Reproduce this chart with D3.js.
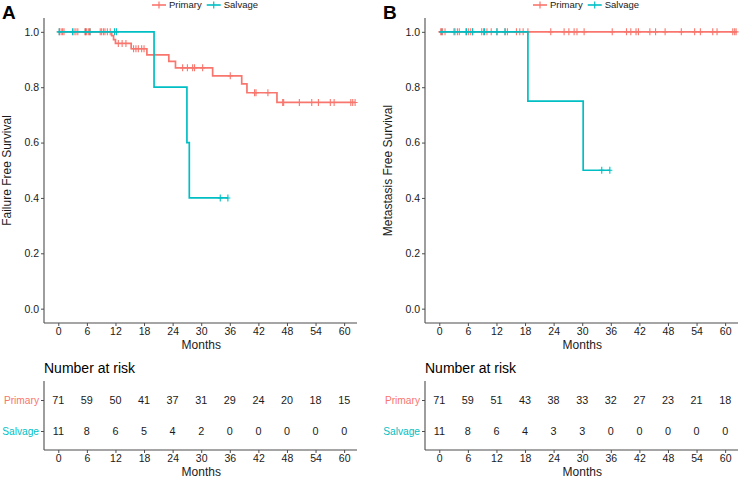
<!DOCTYPE html>
<html><head><meta charset="utf-8">
<script src="https://cdn.jsdelivr.net/npm/d3@7"></script>
<style>body{margin:0;background:#fff}svg{display:block;font-family:"Liberation Sans",Arial,sans-serif}</style>
</head><body><svg id="c" width="740" height="478"></svg>
<script>
// ---------- data ----------
const groups = ["Primary", "Salvage"];
const colors = ["#F8766D", "#00BFC4"];
const timeTicks = [0, 6, 12, 18, 24, 30, 36, 42, 48, 54, 60];
const survTicks = [0, 0.2, 0.4, 0.6, 0.8, 1.0];

// Panel A: Failure free survival
const A_primaryEventTimes = [11.2, 11.6, 12.0, 15.3, 18.6, 23.2, 24.6, 32.4, 38.5, 39.6, 45.9];
const A_primarySurv       = [0.986, 0.972, 0.958, 0.939, 0.917, 0.893, 0.870, 0.841, 0.812, 0.780, 0.745];
const A_primaryEnd = 62.3;
const A_primaryCensor = [0.2, 0.6, 0.9, 1.2, 3.3, 3.7, 4.1, 5.6, 5.9, 6.3, 6.7, 8.8, 9.1, 9.5, 9.8, 10.3, 10.9,
  12.6, 13.4, 14.2, 15.8, 16.3, 16.8, 17.5, 18.0, 26.1, 27.1, 28.2, 28.6, 30.3, 36.1, 41.2, 41.5, 44.0,
  47.1, 47.3, 50.6, 53.2, 54.6, 57.1, 57.9, 61.4, 61.8, 62.3];
const A_salvageEventTimes = [20.1, 27.0, 27.5];
const A_salvageSurv       = [0.8, 0.6, 0.4];
const A_salvageEnd = 35.6;
const A_salvageCensor = [0.2, 3.0, 5.7, 6.6, 11.8, 12.2, 34.0, 35.6];
const A_riskPrimary = [71, 59, 50, 41, 37, 31, 29, 24, 20, 18, 15];
const A_riskSalvage = [11, 8, 6, 5, 4, 2, 0, 0, 0, 0, 0];

// Panel B: Metastasis free survival
const B_primaryEventTimes = [];
const B_primarySurv       = [];
const B_primaryEnd = 62.4;
const B_primaryCensor = [0.3, 0.7, 1.2, 3.3, 3.8, 4.2, 5.6, 6.1, 6.6, 7.0, 8.9, 9.3, 10.0, 10.9, 12.1,
  13.8, 14.3, 16.2, 16.9, 17.6, 18.6, 23.4, 26.2, 27.2, 28.3, 28.9, 30.4, 36.3, 39.3, 40.2, 41.3, 41.8,
  44.2, 45.4, 47.4, 50.8, 53.6, 54.8, 57.4, 58.3, 61.6, 62.0, 62.3];
const B_salvageEventTimes = [18.6, 30.2];
const B_salvageSurv       = [0.75, 0.5];
const B_salvageEnd = 35.8;
const B_salvageCensor = [0.5, 3.1, 5.7, 7.0, 9.5, 12.1, 13.8, 34.1, 35.8];
const B_riskPrimary = [71, 59, 51, 43, 38, 33, 32, 27, 23, 21, 18];
const B_riskSalvage = [11, 8, 6, 4, 3, 3, 0, 0, 0, 0, 0];

const panels = [
  {label: "A", ytitle: "Failure Free Survival", x0: 44,
   curves: [
     {ev: A_primaryEventTimes, s: A_primarySurv, end: A_primaryEnd, cens: A_primaryCensor},
     {ev: A_salvageEventTimes, s: A_salvageSurv, end: A_salvageEnd, cens: A_salvageCensor}],
   risk: [A_riskPrimary, A_riskSalvage]},
  {label: "B", ytitle: "Metastasis Free Survival", x0: 425,
   curves: [
     {ev: B_primaryEventTimes, s: B_primarySurv, end: B_primaryEnd, cens: B_primaryCensor},
     {ev: B_salvageEventTimes, s: B_salvageSurv, end: B_salvageEnd, cens: B_salvageCensor}],
   risk: [B_riskPrimary, B_riskSalvage]}
];

// ---------- drawing ----------
const svg = d3.select("#c");
const W = 313;
const y = d3.scaleLinear().domain([-0.05, 1.05]).range([322.5, 18]);
const axisCol = "#4d4d4d", txtCol = "#1a1a1a";

function styleAxis(g, fs) {
  g.select(".domain").attr("stroke", axisCol).attr("stroke-width", 1.1);
  g.selectAll(".tick line").attr("stroke", axisCol).attr("stroke-width", 1);
  g.selectAll(".tick text").attr("fill", txtCol).attr("font-size", fs || 10.5)
    .attr("font-family", "Liberation Sans, Arial, sans-serif");
}

panels.forEach(p => {
  const x = d3.scaleLinear().domain([-3, 62.7]).range([p.x0, p.x0 + W]);
  const g = svg.append("g");

  // panel label
  g.append("text").attr("x", p.x0 - 42).attr("y", 19).attr("font-size", 19)
    .attr("font-weight", "bold").attr("fill", "#000").text(p.label);

  // legend
  const leg = g.append("g").attr("font-size", 9.5);
  let lx = p.x0 + 108;
  groups.forEach((name, i) => {
    const col = colors[i];
    leg.append("line").attr("x1", lx).attr("x2", lx + 14).attr("y1", 5).attr("y2", 5)
      .attr("stroke", col).attr("stroke-width", 1.6);
    leg.append("line").attr("x1", lx + 7).attr("x2", lx + 7).attr("y1", 1.5).attr("y2", 8.5)
      .attr("stroke", col).attr("stroke-width", 1.2);
    const t = leg.append("text").attr("x", lx + 17).attr("y", 8.3).attr("fill", txtCol).text(name);
    lx += 17 + t.node().getComputedTextLength() + 5;
  });

  // axes
  const xa = g.append("g").attr("transform", "translate(0,323)")
    .call(d3.axisBottom(x).tickValues(timeTicks).tickSize(3).tickPadding(2).tickSizeOuter(0));
  styleAxis(xa);
  const ya = g.append("g").attr("transform", `translate(${p.x0},0)`)
    .call(d3.axisLeft(y).tickValues(survTicks).tickFormat(d3.format(".1f")).tickSize(3).tickPadding(2).tickSizeOuter(0));
  styleAxis(ya);
  xa.select(".domain").attr("d", `M${p.x0},0H${p.x0 + W}`);
  ya.select(".domain").attr("d", `M0,${y(1.05)}V323`);

  g.append("text").attr("x", x(30)).attr("y", 349).attr("text-anchor", "middle")
    .attr("font-size", 12).attr("fill", txtCol).text("Months");
  g.append("text").attr("transform", `translate(${p.x0 - 33},${(18 + 323) / 2}) rotate(-90)`)
    .attr("text-anchor", "middle").attr("font-size", 12).attr("fill", txtCol).text(p.ytitle);

  // curves
  const line = d3.line().x(d => x(d[0])).y(d => y(d[1])).curve(d3.curveStepAfter);
  p.curves.forEach((c, i) => {
    const pts = [[0, 1]];
    c.ev.forEach((t, k) => pts.push([t, c.s[k]]));
    pts.push([c.end, c.s.length ? c.s[c.s.length - 1] : 1]);
    g.append("path").attr("d", line(pts)).attr("fill", "none")
      .attr("stroke", colors[i]).attr("stroke-width", 1.7);
    const survAt = t => { let v = 1; c.ev.forEach((e, k) => { if (e <= t) v = c.s[k]; }); return v; };
    c.cens.forEach(t => {
      const cxp = x(t), cyp = y(survAt(t));
      g.append("path").attr("d", `M${cxp},${cyp - 3.5}V${cyp + 3.5}M${cxp - 2.5},${cyp}H${cxp + 2.5}`)
        .attr("stroke", colors[i]).attr("stroke-width", 1.1).attr("fill", "none");
    });
  });

  // risk table
  g.append("text").attr("x", p.x0).attr("y", 373).attr("font-size", 14).attr("fill", "#000").text("Number at risk");
  const ry = d3.scalePoint().domain(groups).range([400, 431]);
  const ta = g.append("g").attr("transform", "translate(0,450)")
    .call(d3.axisBottom(x).tickValues(timeTicks).tickSize(3).tickPadding(2).tickSizeOuter(0));
  styleAxis(ta);
  ta.select(".domain").attr("d", `M${p.x0},0H${p.x0 + W}`);
  const tya = g.append("g").attr("transform", `translate(${p.x0},0)`)
    .call(d3.axisLeft(ry).tickSize(3).tickPadding(2).tickSizeOuter(0));
  styleAxis(tya, 10.2);
  tya.select(".domain").attr("d", "M0,381V450");
  tya.selectAll(".tick text").attr("fill", (d, i) => colors[i]);
  g.append("text").attr("x", x(30)).attr("y", 476).attr("text-anchor", "middle")
    .attr("font-size", 12).attr("fill", txtCol).text("Months");

  groups.forEach((gr, gi) => {
    g.selectAll(null).data(p.risk[gi]).enter().append("text")
      .attr("x", (d, k) => x(timeTicks[k])).attr("y", ry(gr)).attr("dy", "0.35em")
      .attr("text-anchor", "middle").attr("font-size", 10.8).attr("fill", txtCol).text(d => d);
  });
});
</script></body></html>
